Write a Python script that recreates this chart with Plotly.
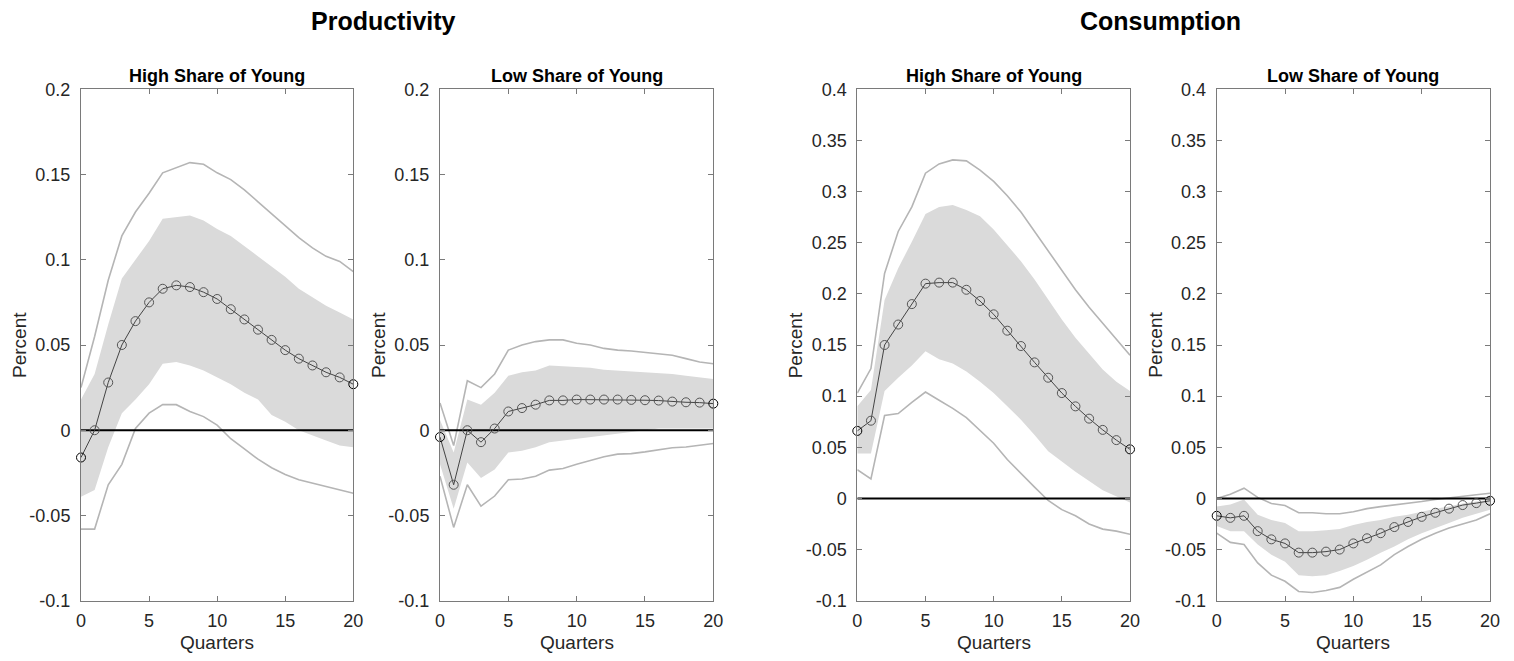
import plotly.graph_objects as go

quarters = list(range(21))

# Productivity, high share of young
prod_high_median = [-0.016, 0.0, 0.028, 0.050, 0.064, 0.075, 0.083, 0.085, 0.084, 0.081, 0.077,
                    0.071, 0.065, 0.059, 0.053, 0.047, 0.042, 0.038, 0.034, 0.031, 0.027]
prod_high_band_hi = [0.018, 0.033, 0.062, 0.089, 0.100, 0.111, 0.124, 0.125, 0.126, 0.123, 0.118,
                     0.114, 0.108, 0.102, 0.096, 0.090, 0.083, 0.078, 0.073, 0.069, 0.065]
prod_high_band_lo = [-0.039, -0.035, -0.010, 0.010, 0.018, 0.027, 0.039, 0.040, 0.038, 0.035, 0.031,
                     0.027, 0.022, 0.018, 0.009, 0.005, 0.000, -0.003, -0.006, -0.009, -0.010]
prod_high_outer_hi = [0.025, 0.055, 0.088, 0.114, 0.128, 0.139, 0.151, 0.154, 0.157, 0.156, 0.151,
                      0.147, 0.141, 0.134, 0.127, 0.120, 0.113, 0.107, 0.102, 0.099, 0.093]
prod_high_outer_lo = [-0.058, -0.058, -0.032, -0.020, 0.001, 0.010, 0.015, 0.015, 0.011, 0.008, 0.003,
                      -0.005, -0.011, -0.017, -0.022, -0.026, -0.029, -0.031, -0.033, -0.035, -0.037]

# Productivity, low share of young
prod_low_median = [-0.004, -0.032, 0.000, -0.007, 0.001, 0.011, 0.013, 0.015, 0.0175, 0.0175, 0.018,
                   0.018, 0.018, 0.018, 0.0178, 0.0176, 0.0174, 0.0168, 0.0164, 0.0162, 0.0156]
prod_low_band_hi = [0.006, -0.013, 0.018, 0.015, 0.022, 0.032, 0.034, 0.035, 0.038, 0.0375, 0.037,
                    0.0367, 0.0355, 0.035, 0.0347, 0.034, 0.0338, 0.033, 0.032, 0.031, 0.030]
prod_low_band_lo = [-0.020, -0.046, -0.019, -0.028, -0.023, -0.013, -0.012, -0.010, -0.007, -0.006, -0.005,
                    -0.004, -0.003, -0.002, -0.001, 0.000, 0.001, 0.001, 0.001, 0.001, 0.001]
prod_low_outer_hi = [0.016, -0.009, 0.029, 0.025, 0.033, 0.047, 0.050, 0.052, 0.053, 0.053, 0.051,
                     0.050, 0.048, 0.047, 0.0465, 0.0457, 0.045, 0.044, 0.042, 0.040, 0.039]
prod_low_outer_lo = [-0.027, -0.057, -0.032, -0.0445, -0.0386, -0.029, -0.0286, -0.027, -0.0234, -0.0224, -0.020,
                     -0.0176, -0.0156, -0.014, -0.0137, -0.0127, -0.0117, -0.0103, -0.0098, -0.0088, -0.0078]

# Consumption, high share of young
cons_high_median = [0.066, 0.076, 0.150, 0.170, 0.190, 0.210, 0.211, 0.211, 0.204, 0.193, 0.180,
                    0.164, 0.149, 0.133, 0.118, 0.103, 0.090, 0.078, 0.067, 0.057, 0.048]
cons_high_band_hi = [0.090, 0.106, 0.194, 0.225, 0.251, 0.278, 0.285, 0.287, 0.282, 0.276, 0.263,
                     0.248, 0.232, 0.214, 0.194, 0.175, 0.157, 0.142, 0.126, 0.114, 0.105]
cons_high_band_lo = [0.044, 0.044, 0.105, 0.118, 0.130, 0.144, 0.136, 0.132, 0.124, 0.114, 0.103,
                     0.090, 0.077, 0.062, 0.046, 0.036, 0.026, 0.017, 0.008, 0.002, -0.004]
cons_high_outer_hi = [0.103, 0.127, 0.220, 0.261, 0.285, 0.318, 0.327, 0.331, 0.330, 0.321, 0.310,
                      0.296, 0.280, 0.261, 0.241, 0.222, 0.204, 0.187, 0.171, 0.155, 0.140]
cons_high_outer_lo = [0.028, 0.019, 0.081, 0.083, 0.094, 0.104, 0.096, 0.088, 0.079, 0.066, 0.054,
                      0.038, 0.024, 0.011, -0.002, -0.011, -0.017, -0.025, -0.030, -0.032, -0.035]

# Consumption, low share of young
cons_low_median = [-0.017, -0.019, -0.017, -0.032, -0.040, -0.044, -0.053, -0.053, -0.052, -0.050, -0.044,
                   -0.039, -0.034, -0.028, -0.023, -0.018, -0.014, -0.010, -0.0065, -0.0046, -0.0023]
cons_low_band_hi = [-0.008, -0.006, -0.001, -0.016, -0.021, -0.024, -0.032, -0.032, -0.031, -0.030, -0.026,
                    -0.023, -0.021, -0.018, -0.016, -0.013, -0.010, -0.008, -0.005, -0.003, -0.001]
cons_low_band_lo = [-0.027, -0.032, -0.032, -0.045, -0.055, -0.062, -0.075, -0.076, -0.075, -0.071, -0.066,
                    -0.060, -0.053, -0.047, -0.040, -0.034, -0.029, -0.024, -0.019, -0.015, -0.011]
cons_low_outer_hi = [0.000, 0.004, 0.010, 0.001, -0.005, -0.007, -0.014, -0.014, -0.015, -0.015, -0.013,
                     -0.010, -0.008, -0.0065, -0.005, -0.003, -0.001, 0.0007, 0.002, 0.0036, 0.005]
cons_low_outer_lo = [-0.034, -0.043, -0.045, -0.063, -0.075, -0.081, -0.091, -0.092, -0.090, -0.087, -0.079,
                     -0.072, -0.065, -0.055, -0.047, -0.040, -0.034, -0.029, -0.025, -0.021, -0.015]

# Tick labels (MATLAB style, plain hyphen minus)
x_ticks = [0, 5, 10, 15, 20]
prod_y_ticks = [-0.1, -0.05, 0, 0.05, 0.1, 0.15, 0.2]
prod_y_labels = ['-0.1', '-0.05', '0', '0.05', '0.1', '0.15', '0.2']
cons_y_ticks = [-0.1, -0.05, 0, 0.05, 0.1, 0.15, 0.2, 0.25, 0.3, 0.35, 0.4]
cons_y_labels = ['-0.1', '-0.05', '0', '0.05', '0.1', '0.15', '0.2', '0.25', '0.3', '0.35', '0.4']

panels = [
    dict(title='High Share of Young', median=prod_high_median, band_hi=prod_high_band_hi, band_lo=prod_high_band_lo,
         outer_hi=prod_high_outer_hi, outer_lo=prod_high_outer_lo, yrange=[-0.1, 0.2],
         yticks=prod_y_ticks, ylabels=prod_y_labels),
    dict(title='Low Share of Young', median=prod_low_median, band_hi=prod_low_band_hi, band_lo=prod_low_band_lo,
         outer_hi=prod_low_outer_hi, outer_lo=prod_low_outer_lo, yrange=[-0.1, 0.2],
         yticks=prod_y_ticks, ylabels=prod_y_labels),
    dict(title='High Share of Young', median=cons_high_median, band_hi=cons_high_band_hi, band_lo=cons_high_band_lo,
         outer_hi=cons_high_outer_hi, outer_lo=cons_high_outer_lo, yrange=[-0.1, 0.4],
         yticks=cons_y_ticks, ylabels=cons_y_labels),
    dict(title='Low Share of Young', median=cons_low_median, band_hi=cons_low_band_hi, band_lo=cons_low_band_lo,
         outer_hi=cons_low_outer_hi, outer_lo=cons_low_outer_lo, yrange=[-0.1, 0.4],
         yticks=cons_y_ticks, ylabels=cons_y_labels),
]

# The page has an 8px body margin, so the figure is 16px smaller than the window
# and all window positions are shifted by 8px.
PAD = 8
W, H = 1514 - 2 * PAD, 661 - 2 * PAD


def px(x):
    return (x - PAD) / W


def py(y):
    return 1 - (y - PAD) / H


x_pix = [(81, 353.3), (440, 713.3), (857.3, 1130), (1216.7, 1490)]
y_dom = [py(600.7), py(89.3)]

font = 'Liberation Sans, Arial, sans-serif'
axis_col = '#7a7a7a'

fig = go.Figure()
fig.update_layout(width=W, height=H, margin=dict(l=0, r=0, t=0, b=0, autoexpand=False),
                  paper_bgcolor='white', plot_bgcolor='white', showlegend=False,
                  font=dict(family=font, color='#262626'))

for i, p in enumerate(panels):
    n = '' if i == 0 else str(i + 1)
    xa, ya = 'x' + n, 'y' + n

    # Shaded inner band.
    fig.add_trace(go.Scatter(x=quarters + quarters[::-1], y=p['band_hi'] + p['band_lo'][::-1],
                             fill='toself', fillcolor='#dadada', line=dict(width=0), mode='lines',
                             xaxis=xa, yaxis=ya, hoverinfo='skip'))
    # Outer bands.
    for key in ['outer_hi', 'outer_lo']:
        fig.add_trace(go.Scatter(x=quarters, y=p[key], mode='lines', line=dict(color='#b5b5b5', width=1.6),
                                 xaxis=xa, yaxis=ya))
    # Zero line.
    fig.add_trace(go.Scatter(x=[quarters[0], quarters[-1]], y=[0, 0], mode='lines',
                             line=dict(color='black', width=2), xaxis=xa, yaxis=ya))
    # Median response.
    edge_cols = ['black'] + ['#555555'] * (len(quarters) - 2) + ['black']
    fig.add_trace(go.Scatter(x=quarters, y=p['median'], mode='lines+markers',
                             line=dict(color='#444444', width=1),
                             marker=dict(symbol='circle-open', size=9, color=edge_cols,
                                         line=dict(width=1, color=edge_cols)),
                             cliponaxis=False, xaxis=xa, yaxis=ya))

    x0, x1 = x_pix[i]
    fig.update_layout(**{
        'xaxis' + n: dict(domain=[px(x0), px(x1)], range=[0, 20], anchor=ya, tickvals=x_ticks,
                          ticks='inside', ticklen=5, tickcolor=axis_col, showline=True, linecolor=axis_col,
                          linewidth=1, mirror='ticks', showgrid=False, zeroline=False, automargin=False,
                          tickfont=dict(size=18, color='#262626'), ticklabelstandoff=4),
        'yaxis' + n: dict(domain=y_dom, range=p['yrange'], anchor=xa, tickvals=p['yticks'], ticktext=p['ylabels'],
                          ticks='inside', ticklen=5, tickcolor=axis_col, showline=True, linecolor=axis_col,
                          linewidth=1, mirror='ticks', showgrid=False, zeroline=False, automargin=False,
                          tickfont=dict(size=18, color='#262626'), ticklabelstandoff=6),
    })

    xc = px((x0 + x1) / 2)
    fig.add_annotation(text='<b>' + p['title'] + '</b>', x=xc, y=py(76), xref='paper', yref='paper',
                       showarrow=False, font=dict(size=18, color='black'), xanchor='center', yanchor='middle')
    fig.add_annotation(text='Quarters', x=xc, y=py(642), xref='paper', yref='paper',
                       showarrow=False, font=dict(size=19, color='#262626'), xanchor='center', yanchor='middle')
    fig.add_annotation(text='Percent', x=px(x0 - 62), y=(y_dom[0] + y_dom[1]) / 2, xref='paper', yref='paper',
                       showarrow=False, textangle=-90, font=dict(size=19, color='#262626'),
                       xanchor='center', yanchor='middle')

fig.add_annotation(text='<b>Productivity</b>', x=px(383), y=py(21), xref='paper', yref='paper',
                   showarrow=False, font=dict(size=25, color='black'), xanchor='center', yanchor='middle')
fig.add_annotation(text='<b>Consumption</b>', x=px(1160), y=py(21), xref='paper', yref='paper',
                   showarrow=False, font=dict(size=25, color='black'), xanchor='center', yanchor='middle')

fig.write_html('out.html')
